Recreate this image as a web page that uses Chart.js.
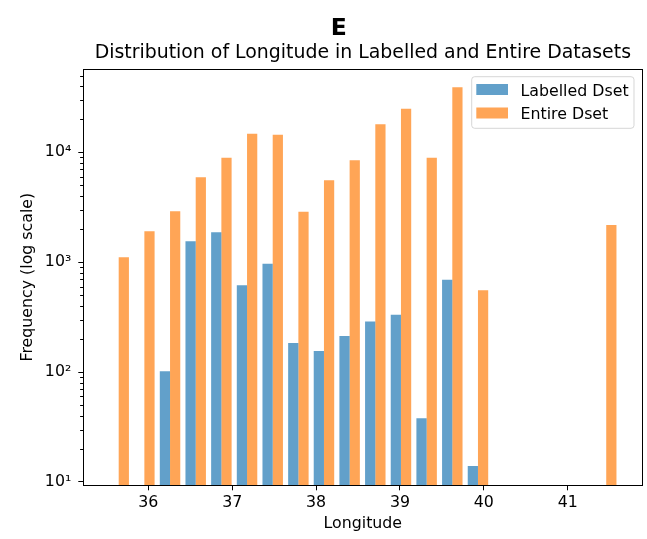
<!DOCTYPE html>
<html>
<head>
<meta charset="utf-8">
<script src="https://cdn.jsdelivr.net/npm/chart.js@4.4.1/dist/chart.umd.min.js"></script>
<style>
  html, body { margin: 0; padding: 0; background: #fff; }
  #wrap { width: 647px; height: 539px; }
</style>
</head>
<body>
<div id="wrap"><canvas id="c" width="647" height="539"></canvas></div>
<script>
// histogram bins (centres, longitude) and counts
const binCenters = [35.647, 35.953, 36.259, 36.565, 36.871, 37.177, 37.483, 37.789, 38.094, 38.400,
                    38.706, 39.012, 39.318, 39.624, 39.930, 40.236, 40.542, 40.848, 41.153, 41.459];
const labelledCounts = [null, null, 102, 1550, 1875, 618, 967, 184, 156, 213,
                        289, 332, 38, 692, 14, null, null, null, null, null];
const entireCounts = [1110, 1915, 2910, 5930, 8910, 14750, 14450, 2875, 5570, 8460,
                      17990, 24950, 8940, 39000, 557, null, null, null, null, 2175];
const xTicks = [36, 37, 38, 39, 40, 41];
const yTicks = [10, 100, 1000, 10000];
const seriesNames = ["Labelled Dset", "Entire Dset"];
const suptitle = "E";
const title = "Distribution of Longitude in Labelled and Entire Datasets";
const xTitle = "Longitude";
const yTitle = "Frequency (log scale)";

const FONT = "DejaVu Sans";
const FS = 15.8;
const BLUE = "rgba(31,119,180,0.7)";
const ORANGE = "rgba(255,127,14,0.7)";
const sup = { 1: "\u00b9", 2: "\u00b2", 3: "\u00b3", 4: "\u2074" };

Chart.defaults.font.family = FONT;
Chart.defaults.font.size = FS;
Chart.defaults.color = "#000";

// minor log ticks, titles, frame and legend box
const extras = {
  id: "extras",
  afterDatasetsDraw(chart) {
    const { ctx, chartArea: a } = chart;
    const y = chart.scales.y;
    ctx.save();
    ctx.strokeStyle = "#000";
    ctx.lineWidth = 1;
    for (const d of yTicks) {
      for (let m = 2; m <= 9; m++) {
        const v = d * m;
        if (v < y.min || v > y.max) continue;
        const py = Math.round(y.getPixelForValue(v)) + 0.5;
        ctx.beginPath();
        ctx.moveTo(a.left - 3.2, py);
        ctx.lineTo(a.left, py);
        ctx.stroke();
      }
    }
    ctx.strokeRect(Math.round(a.left) + 0.5, Math.round(a.top) + 0.5,
                   Math.round(a.right) - Math.round(a.left), Math.round(a.bottom) - Math.round(a.top));

    // legend
    const lx = a.right - 170.6, ly = a.top + 7.7, lw = 162.3, lh = 51.6, r = 3;
    ctx.beginPath();
    ctx.moveTo(lx + r, ly);
    ctx.arcTo(lx + lw, ly, lx + lw, ly + lh, r);
    ctx.arcTo(lx + lw, ly + lh, lx, ly + lh, r);
    ctx.arcTo(lx, ly + lh, lx, ly, r);
    ctx.arcTo(lx, ly, lx + lw, ly, r);
    ctx.closePath();
    ctx.fillStyle = "rgba(255,255,255,0.8)";
    ctx.fill();
    ctx.strokeStyle = "rgba(204,204,204,0.8)";
    ctx.stroke();
    ctx.font = `${FS}px "${FONT}"`;
    ctx.textAlign = "left";
    ctx.textBaseline = "alphabetic";
    chart.data.datasets.forEach((ds, i) => {
      const cy = ly + 12.8 + i * 23.5;
      ctx.fillStyle = ds.backgroundColor;
      ctx.fillRect(lx + 4.6, cy - 5.5, 31.7, 11);
      ctx.fillStyle = "#000";
      ctx.fillText(ds.label, lx + 48.8, cy + 6.1);
    });

    // titles
    const cx = (a.left + a.right) / 2;
    ctx.textAlign = "center";
    ctx.font = `bold 23.5px "${FONT}"`;
    ctx.fillText(suptitle, cx - 24, 35);
    ctx.font = `18.9px "${FONT}"`;
    ctx.fillText(title, cx, 58.3);
    ctx.restore();
  }
};

new Chart(document.getElementById("c"), {
  type: "bar",
  data: {
    datasets: [
      { label: seriesNames[0], data: binCenters.map((x, i) => ({ x, y: labelledCounts[i] })), backgroundColor: BLUE },
      { label: seriesNames[1], data: binCenters.map((x, i) => ({ x, y: entireCounts[i] })), backgroundColor: ORANGE }
    ]
  },
  options: {
    responsive: false,
    animation: false,
    categoryPercentage: 0.8,
    barPercentage: 1.0,
    borderWidth: 0,
    layout: { padding: { top: 69, right: 4.7, bottom: 0, left: 0 } },
    plugins: {
      legend: { display: false },
      title: { display: false },
      tooltip: { enabled: false }
    },
    scales: {
      x: {
        type: "linear",
        min: 35.225,
        max: 41.889,
        offset: false,
        grid: { offset: false, drawOnChartArea: false, drawTicks: true, tickLength: 5, tickColor: "#000" },
        border: { display: false },
        ticks: { padding: 3.2, autoSkip: false, maxRotation: 0, callback: (v) => String(v) },
        afterBuildTicks: (s) => { s.ticks = xTicks.map((v) => ({ value: v })); },
        afterFit: (s) => { s.height = 53.7; },
        title: { display: true, text: xTitle, padding: { top: 0, bottom: 5.7 } }
      },
      y: {
        type: "logarithmic",
        min: 9.33,
        max: 57300,
        grid: { drawOnChartArea: false, drawTicks: true, tickLength: 5, tickColor: "#000" },
        border: { display: false },
        ticks: { padding: 7, autoSkip: false, callback: (v) => "10" + sup[Math.round(Math.log10(v))] },
        afterBuildTicks: (s) => { s.ticks = yTicks.map((v) => ({ value: v, major: true })); },
        afterFit: (s) => { s.width = 83.3; },
        title: { display: true, text: yTitle, padding: { top: 18.2, bottom: 0 } }
      }
    }
  },
  plugins: [extras]
});
</script>
</body>
</html>
